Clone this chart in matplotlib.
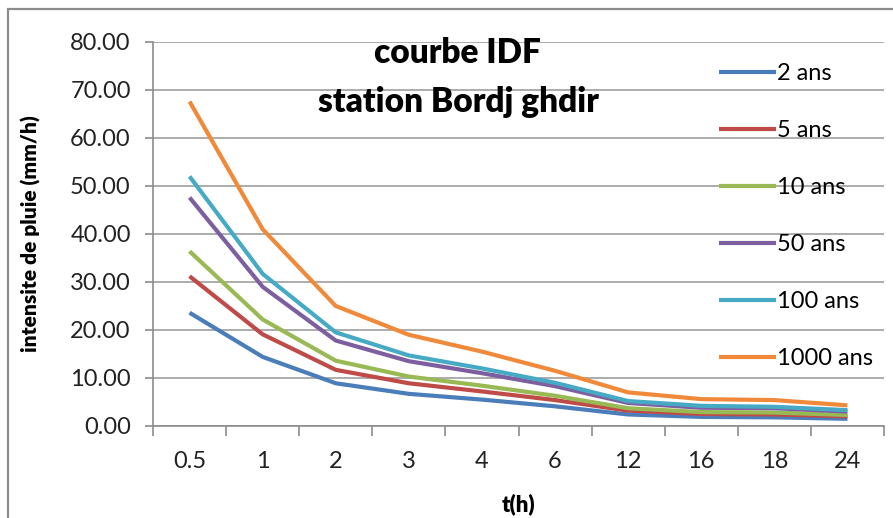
import matplotlib
matplotlib.use("Agg")
import matplotlib.pyplot as plt
from matplotlib.patches import Rectangle
from matplotlib.ticker import FormatStrFormatter, FixedLocator

plt.rcParams['font.family'] = ['Lato', 'DejaVu Sans']

durations = ["0.5", "1", "2", "3", "4", "6", "12", "16", "18", "24"]
ans_2 = [23.6, 14.4, 8.9, 6.7, 5.5, 4.1, 2.4, 1.9, 1.8, 1.5]
ans_5 = [31.2, 19.1, 11.7, 8.9, 7.2, 5.4, 3.2, 2.5, 2.4, 2.0]
ans_10 = [36.4, 22.2, 13.6, 10.3, 8.4, 6.3, 3.7, 2.9, 2.8, 2.3]
ans_50 = [47.6, 29.0, 17.8, 13.5, 11.0, 8.3, 4.8, 3.8, 3.7, 3.0]
ans_100 = [52.0, 31.7, 19.5, 14.7, 12.0, 9.0, 5.2, 4.2, 4.0, 3.3]
ans_1000 = [67.6, 41.0, 25.0, 19.0, 15.5, 11.5, 7.0, 5.6, 5.4, 4.3]

series = [
    ("2 ans", ans_2, "#4A7EBB"),
    ("5 ans", ans_5, "#BE4B48"),
    ("10 ans", ans_10, "#98B954"),
    ("50 ans", ans_50, "#7D5FA0"),
    ("100 ans", ans_100, "#46AAC5"),
    ("1000 ans", ans_1000, "#F08A3A"),
]

W, H = 893, 518
fig = plt.figure(figsize=(W / 100, H / 100), dpi=100)
fig.patch.set_facecolor("white")

# outer chart border
fig.patches.append(Rectangle((8 / W, -0.05), 1.2, 1 - 9 / H + 0.05,
                             transform=fig.transFigure, fill=False,
                             edgecolor="#8C8C8C", linewidth=1.6))

ax = fig.add_axes([153 / W, 1 - 426 / H, (884 - 153) / W, (426 - 42) / H])
x = list(range(len(durations)))

for label, vals, color in series:
    ax.plot(x, vals, color=color, linewidth=3.0, label=label,
            solid_capstyle="butt", solid_joinstyle="round", zorder=3)

ax.set_xlim(-0.5, len(durations) - 0.5)
ax.set_ylim(0, 80)
ax.set_yticks(range(0, 81, 10))
ax.yaxis.set_major_formatter(FormatStrFormatter("%.2f"))
ax.set_xticks(x)
ax.set_xticklabels(durations)
ax.xaxis.set_minor_locator(FixedLocator([i - 0.5 for i in range(len(durations) + 1)]))

ax.grid(axis="y", color="#A6A6A6", linewidth=1.3, zorder=0)
ax.set_axisbelow(True)
for side in ("top", "right"):
    ax.spines[side].set_visible(False)
for side in ("left", "bottom"):
    ax.spines[side].set_color("#8C8C8C")
    ax.spines[side].set_linewidth(1.2)

ax.tick_params(axis="x", which="major", length=0, pad=18, labelsize=17, colors="#222222")
ax.tick_params(axis="x", which="minor", length=7, width=1.2, color="#8C8C8C", direction="out")
ax.tick_params(axis="y", length=6, width=1.2, color="#8C8C8C", direction="out",
               pad=10, labelsize=17, labelcolor="#222222")

ax.set_ylabel("intensite de pluie (mm/h)", fontsize=15, fontweight="heavy", labelpad=21)
ax.set_xlabel("t(h)", fontsize=16, fontweight="heavy", labelpad=15)

ax.text(457 / W, 1 - 53 / H, "courbe IDF", transform=fig.transFigure,
        ha="center", va="center", fontsize=24, fontweight="heavy")
ax.text(458 / W, 1 - 102 / H, "station Bordj ghdir", transform=fig.transFigure,
        ha="center", va="center", fontsize=24, fontweight="heavy")

leg = ax.legend(loc="upper left", bbox_to_anchor=(710 / W, 1 - 54 / H),
                bbox_transform=fig.transFigure, frameon=False, fontsize=17,
                handlelength=2.4, handletextpad=0.05, labelspacing=1.52,
                borderaxespad=0)
for line in leg.get_lines():
    line.set_linewidth(3.0)

fig.savefig("out.png", dpi=100)
